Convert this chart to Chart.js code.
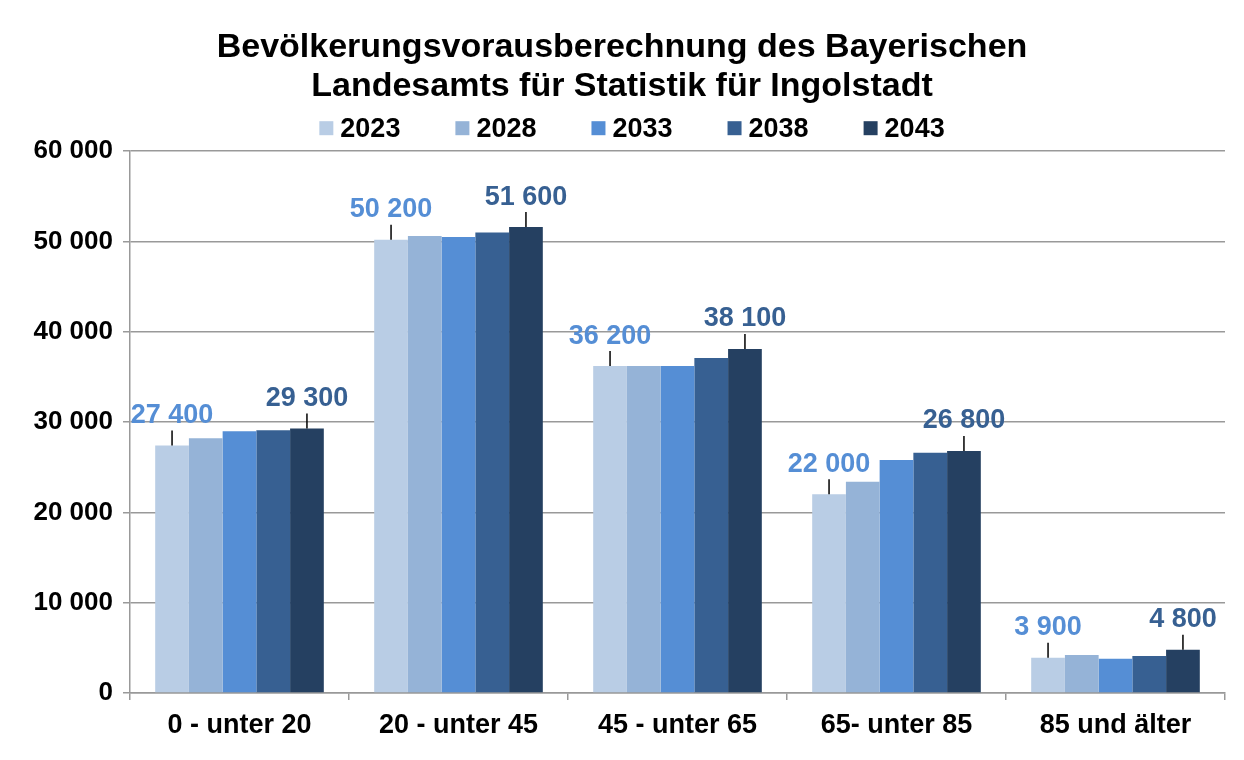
<!DOCTYPE html>
<html>
<head>
<meta charset="utf-8">
<script src="https://cdn.jsdelivr.net/npm/chart.js@4.4.0/dist/chart.umd.min.js"></script>
<style>
  html, body { margin: 0; padding: 0; background: #fff; }
</style>
</head>
<body>
<canvas id="chart" width="1244" height="760"></canvas>
<script>
var categories = ['0 - unter 20', '20 - unter 45', '45 - unter 65', '65- unter 85', '85 und älter'];
var years = ['2023', '2028', '2033', '2038', '2043'];
var v2023 = [27400, 50200, 36200, 22000, 3900];
var v2028 = [28200, 50600, 36200, 23400, 4200];
var v2033 = [29000, 50500, 36200, 25800, 3800];
var v2038 = [29100, 51000, 37100, 26600, 4100];
var v2043 = [29300, 51600, 38100, 26800, 4800];
var yTicks = [0, 10000, 20000, 30000, 40000, 50000, 60000];

var colors = ['#B9CDE5', '#95B3D7', '#558ED5', '#376092', '#254061'];
var FONT = "Arial, 'Liberation Sans', sans-serif";
var GRID = '#999999';

function fmt(v) {
  return String(v).replace(/\B(?=(\d{3})+(?!\d))/g, ' ');
}

// value labels with leader lines for the first and last year
var valueLabels = {
  id: 'valueLabels',
  afterDatasetsDraw: function(chart) {
    var ctx = chart.ctx;
    [[0, '#558ED5'], [4, '#376092']].forEach(function(p) {
      var meta = chart.getDatasetMeta(p[0]);
      meta.data.forEach(function(bar, i) {
        var value = chart.data.datasets[p[0]].data[i];
        var cy = bar.y - 30;
        ctx.save();
        if (bar.y - (cy + 15) > 2) {
          ctx.strokeStyle = '#000';
          ctx.lineWidth = 1.5;
          ctx.beginPath();
          ctx.moveTo(bar.x, cy + 15);
          ctx.lineTo(bar.x, bar.y);
          ctx.stroke();
        }
        ctx.font = 'bold 27px ' + FONT;
        ctx.fillStyle = p[1];
        ctx.textAlign = 'center';
        ctx.textBaseline = 'middle';
        ctx.fillText(fmt(value), bar.x, cy);
        ctx.restore();
      });
    });
  }
};

// legend with tight box/text spacing
var yearLegend = {
  id: 'yearLegend',
  afterDraw: function(chart) {
    var ctx = chart.ctx;
    var box = 14, gap = 7, space = 55;
    ctx.save();
    ctx.font = 'bold 27px ' + FONT;
    var widths = chart.data.datasets.map(function(d) { return ctx.measureText(d.label).width; });
    var total = widths.reduce(function(a, w) { return a + box + gap + w; }, 0) + space * (widths.length - 1);
    var x = chart.width / 2 + 10 - total / 2;
    var y = chart.titleBlock.bottom - 23;
    ctx.textBaseline = 'middle';
    chart.data.datasets.forEach(function(d, i) {
      ctx.fillStyle = d.backgroundColor;
      ctx.fillRect(x, y - box / 2, box, box);
      ctx.fillStyle = '#000';
      ctx.fillText(d.label, x + box + gap, y + 1);
      x += box + gap + widths[i] + space;
    });
    ctx.restore();
  }
};

var series = [v2023, v2028, v2033, v2038, v2043];

new Chart(document.getElementById('chart'), {
  type: 'bar',
  data: {
    labels: categories,
    datasets: years.map(function(y, i) {
      return {
        label: y,
        data: series[i],
        backgroundColor: colors[i],
        borderWidth: 0,
        categoryPercentage: 0.77,
        barPercentage: 1.0
      };
    })
  },
  options: {
    responsive: false,
    animation: false,
    layout: { padding: { left: 19, right: 19, top: 0, bottom: 0 } },
    plugins: {
      legend: { display: false },
      tooltip: { enabled: false },
      title: {
        display: true,
        text: ['Bevölkerungsvorausberechnung des Bayerischen', 'Landesamts für Statistik für Ingolstadt'],
        color: '#000',
        font: { family: FONT, size: 34, weight: 'bold', lineHeight: 1.15 },
        padding: { top: 28, bottom: 45 }
      }
    },
    scales: {
      x: {
        grid: { offset: true, drawOnChartArea: false, color: GRID, lineWidth: 1.5, tickLength: 7 },
        border: { color: GRID, width: 1.5 },
        ticks: { color: '#000', font: { family: FONT, size: 27, weight: 'bold' }, padding: 9 },
        afterFit: function(s) { s.height = 67; }
      },
      y: {
        min: 0,
        max: 60000,
        afterBuildTicks: function(s) { s.ticks = yTicks.map(function(v) { return { value: v }; }); },
        grid: { color: GRID, lineWidth: 1.5, tickLength: 7 },
        border: { color: GRID, width: 1.5 },
        ticks: {
          color: '#000',
          font: { family: FONT, size: 26, weight: 'bold' },
          padding: 10,
          callback: function(v) { return fmt(v); }
        },
        afterFit: function(s) { s.width = 111; }
      }
    }
  },
  plugins: [valueLabels, yearLegend]
});
</script>
</body>
</html>
